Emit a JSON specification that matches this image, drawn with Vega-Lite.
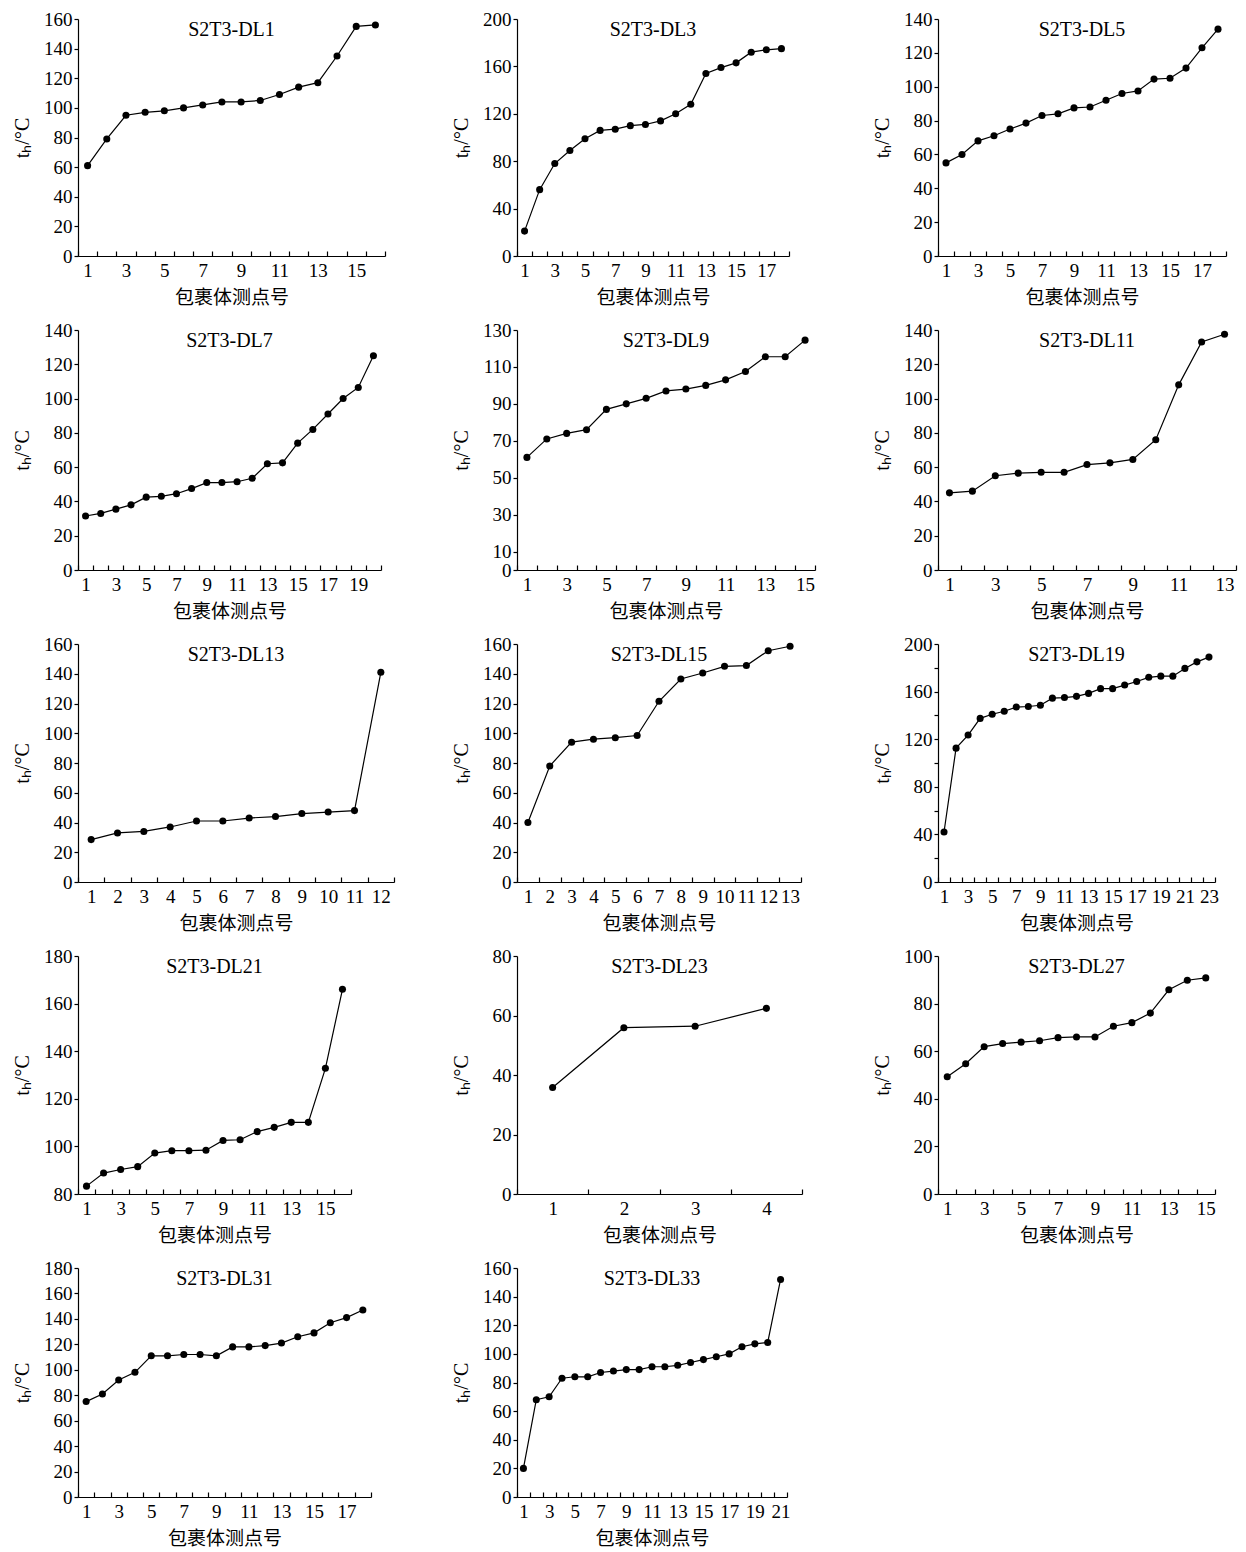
{
"$schema":"https://vega.github.io/schema/vega-lite/v6.json",
"background":"white",
"padding":{"left":12,"top":10,"right":5,"bottom":5},
"columns":3,
"align":"each",
"spacing":{"row":14,"column":56},
"config":{
 "view":{"stroke":null},
 "axis":{"grid":false,"labelOverlap":false,"domainColor":"black","tickColor":"black","labelColor":"black","titleColor":"black","labelFont":"Liberation Serif","labelFontSize":19,"titleFontWeight":"normal","domainWidth":1.2,"tickWidth":1.2},
 "axisX":{"tickSize":-5,"labelAngle":0,"titleFont":"Noto Sans CJK SC","titleFontSize":19,"titlePadding":8,"labelPadding":10},
 "axisY":{"tickSize":4,"titleFont":"Liberation Serif","titleFontSize":20,"minExtent":40,"maxExtent":40,"titlePadding":6,"labelPadding":2},
 "title":{"font":"Liberation Serif","fontSize":20,"fontWeight":"normal","color":"black","anchor":"middle","frame":"group","baseline":"top","offset":-30},
 "line":{"color":"black","strokeWidth":1.2},
 "point":{"filled":true,"color":"black","size":50,"opacity":1}
},
"concat":[
{"title":"S2T3-DL1","width":307,"height":237,
 "data":{"values":[{"n":1,"t":61},{"n":2,"t":79},{"n":3,"t":95},{"n":4,"t":97},{"n":5,"t":98},{"n":6,"t":100},{"n":7,"t":102},{"n":8,"t":104},{"n":9,"t":104},{"n":10,"t":105},{"n":11,"t":109},{"n":12,"t":114},{"n":13,"t":117},{"n":14,"t":135},{"n":15,"t":155},{"n":16,"t":156}]},
 "encoding":{
  "x":{"field":"n","type":"ordinal","bandPosition":0.5,"scale":{"type":"band","paddingInner":0,"paddingOuter":0},"axis":{"title":"包裹体测点号","tickBand":"extent","labelExpr":"datum.value % 2 == 1 ? datum.label : ''"}},
  "y":{"field":"t","type":"quantitative","scale":{"domain":[0,160],"nice":false},"axis":{"title":"tₕ/°C","values":[0,20,40,60,80,100,120,140,160]}}},
 "layer":[{"mark":"line"},{"mark":"point"}]},
{"title":"S2T3-DL3","width":272,"height":237,
 "data":{"values":[{"n":1,"t":21},{"n":2,"t":56},{"n":3,"t":78},{"n":4,"t":89},{"n":5,"t":99},{"n":6,"t":106},{"n":7,"t":107},{"n":8,"t":110},{"n":9,"t":111},{"n":10,"t":114},{"n":11,"t":120},{"n":12,"t":128},{"n":13,"t":154},{"n":14,"t":159},{"n":15,"t":163},{"n":16,"t":172},{"n":17,"t":174},{"n":18,"t":175}]},
 "encoding":{
  "x":{"field":"n","type":"ordinal","bandPosition":0.5,"scale":{"type":"band","paddingInner":0,"paddingOuter":0},"axis":{"title":"包裹体测点号","tickBand":"extent","labelExpr":"datum.value % 2 == 1 ? datum.label : ''"}},
  "y":{"field":"t","type":"quantitative","scale":{"domain":[0,200],"nice":false},"axis":{"title":"tₕ/°C","values":[0,40,80,120,160,200]}}},
 "layer":[{"mark":"line"},{"mark":"point"}]},
{"title":"S2T3-DL5","width":288,"height":237,
 "data":{"values":[{"n":1,"t":55},{"n":2,"t":60},{"n":3,"t":68},{"n":4,"t":71},{"n":5,"t":75},{"n":6,"t":78.5},{"n":7,"t":83},{"n":8,"t":84},{"n":9,"t":87.5},{"n":10,"t":88},{"n":11,"t":92},{"n":12,"t":96},{"n":13,"t":97.5},{"n":14,"t":104.5},{"n":15,"t":105},{"n":16,"t":111},{"n":17,"t":123},{"n":18,"t":134}]},
 "encoding":{
  "x":{"field":"n","type":"ordinal","bandPosition":0.5,"scale":{"type":"band","paddingInner":0,"paddingOuter":0},"axis":{"title":"包裹体测点号","tickBand":"extent","labelExpr":"datum.value % 2 == 1 ? datum.label : ''"}},
  "y":{"field":"t","type":"quantitative","scale":{"domain":[0,140],"nice":false},"axis":{"title":"tₕ/°C","values":[0,20,40,60,80,100,120,140]}}},
 "layer":[{"mark":"line"},{"mark":"point"}]},
{"title":"S2T3-DL7","width":303,"height":240,
 "data":{"values":[{"n":1,"t":31.5},{"n":2,"t":33},{"n":3,"t":35.5},{"n":4,"t":38},{"n":5,"t":42.5},{"n":6,"t":43},{"n":7,"t":44.5},{"n":8,"t":47.5},{"n":9,"t":51},{"n":10,"t":51},{"n":11,"t":51.5},{"n":12,"t":53.5},{"n":13,"t":62},{"n":14,"t":62.5},{"n":15,"t":74},{"n":16,"t":82},{"n":17,"t":91},{"n":18,"t":100},{"n":19,"t":106.5},{"n":20,"t":125}]},
 "encoding":{
  "x":{"field":"n","type":"ordinal","bandPosition":0.5,"scale":{"type":"band","paddingInner":0,"paddingOuter":0},"axis":{"title":"包裹体测点号","tickBand":"extent","labelExpr":"datum.value % 2 == 1 ? datum.label : ''"}},
  "y":{"field":"t","type":"quantitative","scale":{"domain":[0,140],"nice":false},"axis":{"title":"tₕ/°C","values":[0,20,40,60,80,100,120,140]}}},
 "layer":[{"mark":"line"},{"mark":"point"}]},
{"title":"S2T3-DL9","width":298,"height":240,
 "data":{"values":[{"n":1,"t":61},{"n":2,"t":71},{"n":3,"t":74},{"n":4,"t":76},{"n":5,"t":87},{"n":6,"t":90},{"n":7,"t":93},{"n":8,"t":97},{"n":9,"t":98},{"n":10,"t":100},{"n":11,"t":103},{"n":12,"t":107.5},{"n":13,"t":115.5},{"n":14,"t":115.5},{"n":15,"t":124.5}]},
 "encoding":{
  "x":{"field":"n","type":"ordinal","bandPosition":0.5,"scale":{"type":"band","paddingInner":0,"paddingOuter":0},"axis":{"title":"包裹体测点号","tickBand":"extent","labelExpr":"datum.value % 2 == 1 ? datum.label : ''"}},
  "y":{"field":"t","type":"quantitative","scale":{"domain":[0,130],"nice":false},"axis":{"title":"tₕ/°C","values":[0,10,30,50,70,90,110,130]}}},
 "layer":[{"mark":"line"},{"mark":"point"}]},
{"title":"S2T3-DL11","width":298,"height":240,
 "data":{"values":[{"n":1,"t":45},{"n":2,"t":46},{"n":3,"t":55},{"n":4,"t":56.5},{"n":5,"t":57},{"n":6,"t":57},{"n":7,"t":61.5},{"n":8,"t":62.5},{"n":9,"t":64.5},{"n":10,"t":76},{"n":11,"t":108},{"n":12,"t":133},{"n":13,"t":137.5}]},
 "encoding":{
  "x":{"field":"n","type":"ordinal","bandPosition":0.5,"scale":{"type":"band","paddingInner":0,"paddingOuter":0},"axis":{"title":"包裹体测点号","tickBand":"extent","labelExpr":"datum.value % 2 == 1 ? datum.label : ''"}},
  "y":{"field":"t","type":"quantitative","scale":{"domain":[0,140],"nice":false},"axis":{"title":"tₕ/°C","values":[0,20,40,60,80,100,120,140]}}},
 "layer":[{"mark":"line"},{"mark":"point"}]},
{"title":"S2T3-DL13","width":316,"height":238,
 "data":{"values":[{"n":1,"t":28.5},{"n":2,"t":33},{"n":3,"t":34},{"n":4,"t":37},{"n":5,"t":41},{"n":6,"t":41},{"n":7,"t":43},{"n":8,"t":44},{"n":9,"t":46},{"n":10,"t":47},{"n":11,"t":48},{"n":12,"t":141}]},
 "encoding":{
  "x":{"field":"n","type":"ordinal","bandPosition":0.5,"scale":{"type":"band","paddingInner":0,"paddingOuter":0},"axis":{"title":"包裹体测点号","tickBand":"extent"}},
  "y":{"field":"t","type":"quantitative","scale":{"domain":[0,160],"nice":false},"axis":{"title":"tₕ/°C","values":[0,20,40,60,80,100,120,140,160]}}},
 "layer":[{"mark":"line"},{"mark":"point"}]},
{"title":"S2T3-DL15","width":284,"height":238,
 "data":{"values":[{"n":1,"t":40},{"n":2,"t":78},{"n":3,"t":94},{"n":4,"t":96},{"n":5,"t":97},{"n":6,"t":98.5},{"n":7,"t":121.5},{"n":8,"t":136.5},{"n":9,"t":140.5},{"n":10,"t":145},{"n":11,"t":145.5},{"n":12,"t":155.5},{"n":13,"t":158.5}]},
 "encoding":{
  "x":{"field":"n","type":"ordinal","bandPosition":0.5,"scale":{"type":"band","paddingInner":0,"paddingOuter":0},"axis":{"title":"包裹体测点号","tickBand":"extent"}},
  "y":{"field":"t","type":"quantitative","scale":{"domain":[0,160],"nice":false},"axis":{"title":"tₕ/°C","values":[0,20,40,60,80,100,120,140,160]}}},
 "layer":[{"mark":"line"},{"mark":"point"}]},
{"title":"S2T3-DL19","width":277,"height":238,
 "data":{"values":[{"n":1,"t":42},{"n":2,"t":112.5},{"n":3,"t":123.5},{"n":4,"t":137.5},{"n":5,"t":141},{"n":6,"t":143.5},{"n":7,"t":147},{"n":8,"t":147.5},{"n":9,"t":148.5},{"n":10,"t":154.5},{"n":11,"t":155},{"n":12,"t":156},{"n":13,"t":158.5},{"n":14,"t":162.5},{"n":15,"t":162.5},{"n":16,"t":165.5},{"n":17,"t":168.5},{"n":18,"t":172},{"n":19,"t":173},{"n":20,"t":173},{"n":21,"t":179.5},{"n":22,"t":185},{"n":23,"t":189}]},
 "encoding":{
  "x":{"field":"n","type":"ordinal","bandPosition":0.5,"scale":{"type":"band","paddingInner":0,"paddingOuter":0},"axis":{"title":"包裹体测点号","tickBand":"extent","labelExpr":"datum.value % 2 == 1 ? datum.label : ''"}},
  "y":{"field":"t","type":"quantitative","scale":{"domain":[0,200],"nice":false},"axis":{"title":"tₕ/°C","values":[0,20,40,60,80,100,120,140,160,180,200],"labelExpr":"datum.value % 40 == 0 ? datum.label : ''"}}},
 "layer":[{"mark":"line"},{"mark":"point"}]},
{"title":"S2T3-DL21","width":273,"height":238,
 "data":{"values":[{"n":1,"t":83.3},{"n":2,"t":88.8},{"n":3,"t":90.3},{"n":4,"t":91.5},{"n":5,"t":97.2},{"n":6,"t":98.2},{"n":7,"t":98.2},{"n":8,"t":98.4},{"n":9,"t":102.5},{"n":10,"t":102.8},{"n":11,"t":106.2},{"n":12,"t":108},{"n":13,"t":110.1},{"n":14,"t":110.1},{"n":15,"t":132.8},{"n":16,"t":166}]},
 "encoding":{
  "x":{"field":"n","type":"ordinal","bandPosition":0.5,"scale":{"type":"band","paddingInner":0,"paddingOuter":0},"axis":{"title":"包裹体测点号","tickBand":"extent","labelExpr":"datum.value % 2 == 1 ? datum.label : ''"}},
  "y":{"field":"t","type":"quantitative","scale":{"domain":[80,180],"nice":false,"zero":false},"axis":{"title":"tₕ/°C","values":[80,100,120,140,160,180]}}},
 "layer":[{"mark":"line"},{"mark":"point"}]},
{"title":"S2T3-DL23","width":285,"height":238,
 "data":{"values":[{"n":1,"t":35.8},{"n":2,"t":55.9},{"n":3,"t":56.4},{"n":4,"t":62.4}]},
 "encoding":{
  "x":{"field":"n","type":"ordinal","bandPosition":0.5,"scale":{"type":"band","paddingInner":0,"paddingOuter":0},"axis":{"title":"包裹体测点号","tickBand":"extent"}},
  "y":{"field":"t","type":"quantitative","scale":{"domain":[0,80],"nice":false},"axis":{"title":"tₕ/°C","values":[0,20,40,60,80]}}},
 "layer":[{"mark":"line"},{"mark":"point"}]},
{"title":"S2T3-DL27","width":277,"height":238,
 "data":{"values":[{"n":1,"t":49.3},{"n":2,"t":54.7},{"n":3,"t":61.9},{"n":4,"t":63.2},{"n":5,"t":63.8},{"n":6,"t":64.4},{"n":7,"t":65.7},{"n":8,"t":66},{"n":9,"t":66},{"n":10,"t":70.5},{"n":11,"t":72},{"n":12,"t":76},{"n":13,"t":85.8},{"n":14,"t":89.8},{"n":15,"t":90.8}]},
 "encoding":{
  "x":{"field":"n","type":"ordinal","bandPosition":0.5,"scale":{"type":"band","paddingInner":0,"paddingOuter":0},"axis":{"title":"包裹体测点号","tickBand":"extent","labelExpr":"datum.value % 2 == 1 ? datum.label : ''"}},
  "y":{"field":"t","type":"quantitative","scale":{"domain":[0,100],"nice":false},"axis":{"title":"tₕ/°C","values":[0,20,40,60,80,100]}}},
 "layer":[{"mark":"line"},{"mark":"point"}]},
{"title":"S2T3-DL31","width":293,"height":229,
 "data":{"values":[{"n":1,"t":75},{"n":2,"t":81},{"n":3,"t":92},{"n":4,"t":98},{"n":5,"t":111},{"n":6,"t":111},{"n":7,"t":112},{"n":8,"t":112},{"n":9,"t":111},{"n":10,"t":118},{"n":11,"t":118},{"n":12,"t":119},{"n":13,"t":121},{"n":14,"t":126},{"n":15,"t":129},{"n":16,"t":137},{"n":17,"t":141},{"n":18,"t":147}]},
 "encoding":{
  "x":{"field":"n","type":"ordinal","bandPosition":0.5,"scale":{"type":"band","paddingInner":0,"paddingOuter":0},"axis":{"title":"包裹体测点号","tickBand":"extent","labelExpr":"datum.value % 2 == 1 ? datum.label : ''"}},
  "y":{"field":"t","type":"quantitative","scale":{"domain":[0,180],"nice":false},"axis":{"title":"tₕ/°C","values":[0,20,40,60,80,100,120,140,160,180]}}},
 "layer":[{"mark":"line"},{"mark":"point"}]},
{"title":"S2T3-DL33","width":270,"height":229,
 "data":{"values":[{"n":1,"t":20},{"n":2,"t":68},{"n":3,"t":70},{"n":4,"t":83},{"n":5,"t":84},{"n":6,"t":84},{"n":7,"t":87},{"n":8,"t":88},{"n":9,"t":89},{"n":10,"t":89},{"n":11,"t":91},{"n":12,"t":91},{"n":13,"t":92},{"n":14,"t":94},{"n":15,"t":96},{"n":16,"t":98},{"n":17,"t":100},{"n":18,"t":105},{"n":19,"t":107},{"n":20,"t":108},{"n":21,"t":152}]},
 "encoding":{
  "x":{"field":"n","type":"ordinal","bandPosition":0.5,"scale":{"type":"band","paddingInner":0,"paddingOuter":0},"axis":{"title":"包裹体测点号","tickBand":"extent","labelExpr":"datum.value % 2 == 1 ? datum.label : ''"}},
  "y":{"field":"t","type":"quantitative","scale":{"domain":[0,160],"nice":false},"axis":{"title":"tₕ/°C","values":[0,20,40,60,80,100,120,140,160]}}},
 "layer":[{"mark":"line"},{"mark":"point"}]}
]
}
